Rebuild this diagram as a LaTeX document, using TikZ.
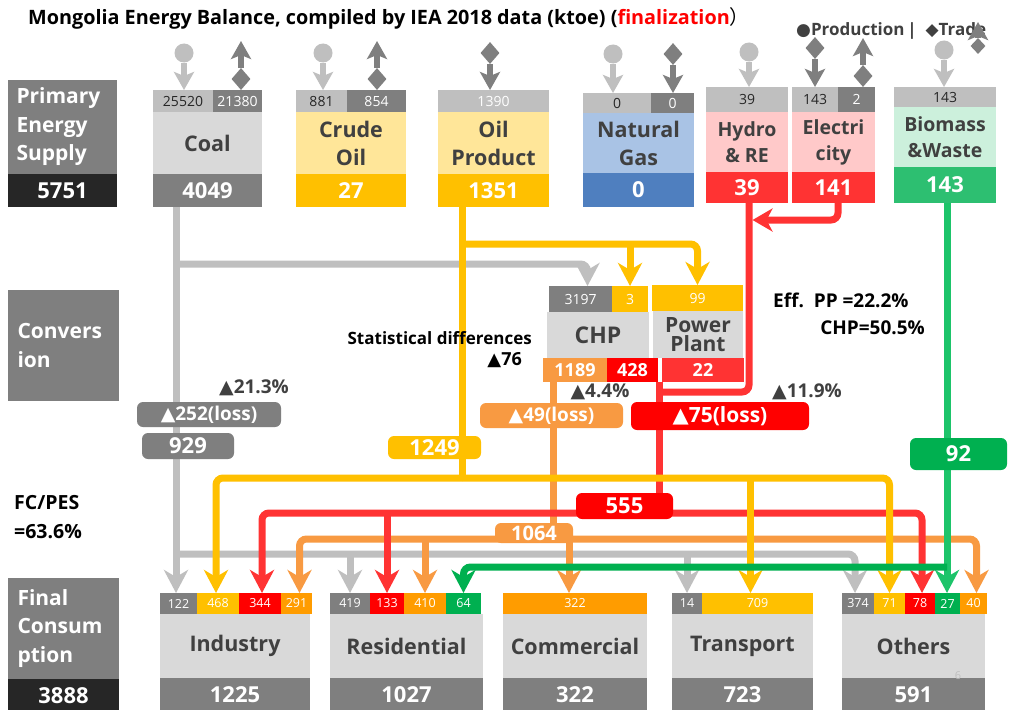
\documentclass[tikz,border=0pt]{standalone}
\usepackage{fontspec}
\setmainfont{Open Sans}
\newfontfamily\symf{DejaVu Sans}
\newfontfamily\cjkf{Noto Sans CJK SC}
\usetikzlibrary{arrows.meta,shapes.geometric,backgrounds}
\definecolor{cdg}{HTML}{7F7F7F}
\definecolor{clg}{HTML}{BFBFBF}
\definecolor{cbx}{HTML}{D9D9D9}
\definecolor{ctx}{HTML}{404040}
\definecolor{cblk}{HTML}{262626}
\definecolor{cyl}{HTML}{FFC000}
\definecolor{clyl}{HTML}{FFE699}
\definecolor{cor}{HTML}{F89A42}
\definecolor{cor2}{HTML}{FF9C00}
\definecolor{cre}{HTML}{FF0000}
\definecolor{crl}{HTML}{FF3333}
\definecolor{cpk}{HTML}{FFC9C9}
\definecolor{clbl}{HTML}{A9C3E5}
\definecolor{cbl}{HTML}{4F7FBF}
\definecolor{clgr}{HTML}{CCF0DC}
\definecolor{cgr}{HTML}{00B050}
\definecolor{cgr2}{HTML}{2DBF71}
\definecolor{cgl}{HTML}{1DC46A}
\newcommand\tri{{\symf ▲}}
\newcommand\bx[7][]{\node[bxs,minimum width={(#5-#3)*1pt},minimum height={(#6-#4)*1pt},#1] (#2) at ({(#3+#5)/2},{(#4+#6)/2}) {#7};}
\begin{document}
\begin{tikzpicture}[x=1pt,y=-1pt,
  >={Stealth[length=23pt,width=24pt,inset=7pt]},
  bxs/.style={inner sep=0pt,outer sep=0pt,align=center,draw=none},
  fnum/.style={font=\fontsize{14}{16}\selectfont},
  fsm/.style={font=\fontsize{12.5}{14}\selectfont,text=white},
  flab/.style={font=\fontsize{21.5}{28}\selectfont\bfseries,text=ctx},
  flabs/.style={font=\fontsize{19.5}{26}\selectfont\bfseries,text=ctx},
  fbig/.style={font=\fontsize{22}{26}\selectfont\bfseries,text=white},
  fside/.style={font=\fontsize{21}{28.5}\selectfont\bfseries,text=white,text width=92pt,align=left},
  fmid/.style={font=\fontsize{18}{22}\selectfont\bfseries,text=white},
  rbox/.style={rounded corners=6pt},
  ftxt/.style={font=\fontsize{18}{22}\selectfont\bfseries,text=ctx,inner sep=0pt},
  fl/.style={line width=7pt,rounded corners=7pt},
  gl/.style={fl,draw=clg},
  yl/.style={fl,draw=cyl},
  ol/.style={fl,draw=cor},
  rl/.style={fl,draw=crl},
  grl/.style={fl,draw=cgl},
  grl2/.style={fl,draw=cgr},
  pcirc/.style={circle,fill=clg,minimum size=19pt,inner sep=0pt},
  parr/.style={line width=6pt,draw=clg,-{Stealth[length=18pt,width=20pt,inset=4pt]}},
  tdia/.style={diamond,fill=cdg,minimum width=19pt,minimum height=22pt,inner sep=0pt},
  tarr/.style={line width=6pt,draw=cdg,-{Stealth[length=18pt,width=20pt,inset=4pt]}},
]
\path[use as bounding box] (0,0) rectangle (1024,709);

% title and legend
\node[anchor=west,inner sep=0pt,font=\fontsize{19.8}{24}\selectfont\bfseries] (title) at (28,18)
  {Mongolia Energy Balance, compiled by IEA 2018 data (ktoe) (\textcolor{red}{finalization}{\cjkf\mdseries ）}};
\node[anchor=west,inner sep=0pt,font=\fontsize{17}{20}\selectfont\bfseries,text=ctx] (legend) at (796,31)
  {{\symf\mdseries ●}Production\,|\ \ {\symf\mdseries ◆}Trade};

% left labels
\bx[fill=cdg,fside]{pes}{8}{80}{117}{174}{Primary\\Energy\\Supply}
\bx[fill=cblk,fbig]{pesv}{8}{174}{117}{207}{5751}
\bx[fill=cdg,fside]{conv}{8}{290}{119}{401}{Convers\\ion}
\node[anchor=west,align=left,inner sep=0pt,font=\fontsize{19.5}{29}\selectfont\bfseries] (fcpes) at (14,517) {FC/PES\\=63.6\%};
\bx[fill=cdg,fside]{fin}{8}{578}{119}{679}{Final\\Consum\\ption}
\bx[fill=cblk,fbig]{finv}{8}{679}{119}{712}{3888}

% ---------- primary row ----------
\bx[fill=clg,fnum,text=cblk]{coalP}{153}{90}{213}{112}{25520}
\bx[fill=cdg,fnum,text=white]{coalT}{213}{90}{262}{112}{21380}
\bx[fill=cbx,flab]{coal}{153}{112}{262}{174}{Coal}
\bx[fill=cdg,fbig]{coalB}{153}{174}{262}{207}{4049}

\bx[fill=clg,fnum,text=cblk]{crP}{296}{90}{347}{112}{881}
\bx[fill=cdg,fnum,text=white]{crT}{347}{90}{406}{112}{854}
\bx[fill=clyl,flab]{cr}{296}{112}{406}{174}{Crude\\Oil}
\bx[fill=cyl,fbig]{crB}{296}{174}{406}{207}{27}

\bx[fill=clg,fnum,text=white]{opP}{438}{90}{549}{112}{1390}
\bx[fill=clyl,flab]{op}{438}{112}{549}{174}{Oil\\Product}
\bx[fill=cyl,fbig]{opB}{438}{174}{549}{207}{1351}

\bx[fill=clg,fnum,text=cblk]{ngP}{583}{93}{651}{113}{0}
\bx[fill=cdg,fnum,text=white]{ngT}{651}{93}{694}{113}{0}
\bx[fill=clbl,flab]{ng}{583}{113}{694}{173}{Natural\\Gas}
\bx[fill=cbl,fbig]{ngB}{583}{173}{694}{207}{0}

\bx[fill=clg,fnum,text=cblk]{hyP}{706}{87}{788}{112}{39}
\bx[fill=cpk,flabs]{hy}{706}{112}{788}{172}{Hydro\\\& RE}
\bx[fill=crl,fbig]{hyB}{706}{172}{788}{203}{39}

\bx[fill=clg,fnum,text=cblk]{elP}{792}{87}{838}{112}{143}
\bx[fill=cdg,fnum,text=white]{elT}{838}{87}{875}{112}{2}
\bx[fill=cpk,flabs]{el}{792}{112}{875}{172}{Electri\\city}
\bx[fill=crl,fbig]{elB}{792}{172}{875}{203}{141}

\bx[fill=clg,fnum,text=cblk]{bmP}{894}{87}{996}{107}{143}
\bx[fill=clgr,flabs]{bm}{894}{107}{996}{167}{Biomass\\\&Waste}
\bx[fill=cgr2,fbig]{bmB}{894}{167}{996}{203}{143}

% production / trade icons
\node[pcirc] (pc1) at (184,53) {};
\node[pcirc] (pc2) at (323,53) {};
\node[pcirc] (pc3) at (613,54) {};
\node[pcirc] (pc4) at (749,52) {};
\node[pcirc] (pc5) at (944,50) {};
\draw[parr] (pc1) -- (coalP.north -| pc1);
\draw[parr] (pc2) -- (crP.north -| pc2);
\draw[parr] (pc3) -- (ngP.north -| pc3);
\draw[parr] (pc4) -- (hyP.north -| pc4);
\draw[parr] (pc5) -- (bmP.north -| pc5);
\node[tdia] (td1) at (241,79) {};
\coordinate (te1) at (241,41);
\draw[tarr] (td1) -- (te1);
\node[tdia] (td2) at (377,79) {};
\coordinate (te2) at (377,41);
\draw[tarr] (td2) -- (te2);
\node[tdia] (td3) at (490,53) {};
\draw[tarr] (td3) -- (opP.north -| td3);
\node[tdia] (td4) at (673,54) {};
\draw[tarr] (td4) -- (ngT.north -| td4);
\node[tdia] (td5) at (815,48) {};
\draw[tarr] (td5) -- (elP.north -| td5);
\node[tdia] (td6) at (863,76) {};
\coordinate (te6) at (863,38);
\draw[tarr] (td6) -- (te6);
\node[tdia,minimum width=15pt,minimum height=16pt] (td7) at (978,46) {};
\coordinate (te7) at (978,22);
\draw[tarr] (td7) -- (te7);

% ---------- conversion ----------
\bx[fill=cdg,fnum,text=white]{c3197}{549}{286}{612}{312}{3197}
\bx[fill=cyl,fnum,text=white]{c3}{612}{286}{648}{312}{3}
\bx[fill=cbx,flab,font=\fontsize{23}{28}\selectfont\bfseries]{chp}{547}{312}{649}{358}{CHP}
\bx[fill=cor,fmid]{c1189}{543}{358}{607}{382}{1189}
\bx[fill=cre,fmid]{c428}{607}{358}{658}{382}{428}
\bx[fill=cyl,fnum,text=white]{pp99}{652}{285}{743}{311}{99}
\bx[fill=cbx,flab,font=\fontsize{21}{19}\selectfont\bfseries]{pp}{653}{311}{743}{358}{Power\\Plant}
\bx[fill=crl,fmid]{pp22}{662}{358}{744}{382}{22}

\node[anchor=east,ftxt,text=black,font=\fontsize{17}{20}\selectfont\bfseries] (sd1) at (532,338) {Statistical differences};
\node[anchor=east,ftxt,text=black] (sd2) at (522,360) {\tri76};
\node[anchor=west,ftxt,text=black,font=\fontsize{19}{22}\selectfont\bfseries] (eff1) at (773,300) {Eff.\ \ PP =22.2\%};
\node[anchor=east,ftxt,text=black,font=\fontsize{19}{22}\selectfont\bfseries] (eff2) at (925,328) {CHP=50.5\%};
\node[ftxt,font=\fontsize{19}{22}\selectfont\bfseries] (p213) at (254,388) {\tri21.3\%};
\node[ftxt,font=\fontsize{19}{22}\selectfont\bfseries] (p44) at (600,392) {\tri4.4\%};
\node[ftxt,font=\fontsize{19}{22}\selectfont\bfseries] (p119) at (807,392) {\tri11.9\%};

\bx[fill=cdg,rbox,fmid,font=\fontsize{19}{22}\selectfont\bfseries]{loss252}{137}{402}{281}{427}{\tri252(loss)}
\bx[fill=cdg,rbox,fbig]{v929}{142}{433}{234}{459}{929}
\bx[fill=cyl,rbox,fbig]{v1249}{388}{436}{481}{459}{1249}
\bx[fill=cor,rbox,fmid,font=\fontsize{19}{22}\selectfont\bfseries]{loss49}{480}{403}{623}{428}{\tri49(loss)}
\bx[fill=cre,rbox,fmid,font=\fontsize{21}{24}\selectfont\bfseries]{loss75}{631}{402}{809}{430}{\tri75(loss)}
\bx[fill=cgr,rbox,fbig]{v92}{910}{438}{1007}{470}{92}
\bx[fill=cre,rbox,fbig]{v555}{576}{493}{673}{519}{555}
\bx[fill=cor,rbox,fmid,font=\fontsize{20}{22}\selectfont\bfseries]{v1064}{495}{523}{573}{543}{1064}

% ---------- final consumption ----------
\bx[fill=cdg,fsm]{i122}{160}{593}{197}{614}{122}
\bx[fill=cyl,fsm]{i468}{197}{593}{239}{614}{468}
\bx[fill=cre,fsm]{i344}{239}{593}{281}{614}{344}
\bx[fill=cor2,fsm]{i291}{281}{593}{312}{614}{291}
\bx[fill=cbx,flab]{ind}{160}{614}{310}{678}{Industry}
\bx[fill=cdg,fbig]{indB}{160}{678}{310}{712}{1225}

\bx[fill=cdg,fsm]{r419}{330}{593}{370}{614}{419}
\bx[fill=cre,fsm]{r133}{370}{593}{404}{614}{133}
\bx[fill=cor2,fsm]{r410}{404}{593}{446}{614}{410}
\bx[fill=cgr,fsm]{r64}{446}{593}{481}{614}{64}
\bx[fill=cbx,flab]{res}{330}{614}{483}{678}{Residential}
\bx[fill=cdg,fbig]{resB}{330}{678}{483}{712}{1027}

\bx[fill=cor2,fsm]{com322}{503}{593}{647}{614}{322}
\bx[fill=cbx,flab]{com}{503}{614}{647}{678}{Commercial}
\bx[fill=cdg,fbig]{comB}{503}{678}{647}{712}{322}

\bx[fill=cdg,fsm]{t14}{672}{593}{702}{614}{14}
\bx[fill=cyl,fsm]{t709}{702}{593}{813}{614}{709}
\bx[fill=cbx,flab]{tra}{672}{614}{813}{678}{Transport}
\bx[fill=cdg,fbig]{traB}{672}{678}{813}{712}{723}

\bx[fill=cdg,fsm]{o374}{842}{593}{874}{614}{374}
\bx[fill=cyl,fsm]{o71}{874}{593}{905}{614}{71}
\bx[fill=cre,fsm]{o78}{905}{593}{935}{614}{78}
\bx[fill=cgr,fsm]{o27}{935}{593}{960}{614}{27}
\bx[fill=cor2,fsm]{o40}{960}{593}{987}{614}{40}
\bx[fill=cbx,flab]{oth}{842}{614}{985}{678}{Others}
\bx[fill=cdg,fbig]{othB}{842}{678}{985}{712}{591}
\node[text=clg,inner sep=0pt,font=\fontsize{11}{12}\selectfont] (pg) at (958,676) {6};

% ---------- flows (behind the boxes) ----------
\begin{pgfonlayer}{background}
\fill[white] (0,0) rectangle (1024,709);
% gray (coal)
\coordinate (gx) at (176,0);
\coordinate (g1) at (176,264);
\coordinate (g2) at (176,554);
\draw[gl,->] (coalB.south -| gx) -- (i122.north -| gx);
\draw[gl,->] (g1) -| ([xshift=7pt]c3197.north);
\draw[gl,->] (g2) -| ([xshift=-3pt]o374.north);
\draw[gl,->] (g2 -| r419.north) -- (r419.north);
\draw[gl,->] (g2 -| t14.north) -- (t14.north);
% orange (CHP heat)
\coordinate (ox) at (553,0);
\coordinate (o1) at (553,539);
\coordinate (ocx) at (569,0);
\draw[ol] (c1189.south -| ox) -- (v1064.north -| ox);
\draw[ol,->] (o1) -| ([xshift=3pt]i291.north);
\draw[ol,->] (o1) -| ([xshift=3pt]o40.north);
\draw[ol,->] (o1 -| r410.north) -- (r410.north);
\draw[ol,->] (o1 -| ocx) -- (com322.north -| ocx);
% red (electricity)
\coordinate (ex) at (838,0);
\coordinate (hx) at (749,0);
\coordinate (rx) at (659,0);
\coordinate (r0) at (752.5,220);
\coordinate (r1) at (659,392);
\coordinate (r2) at (624,513);
\draw[rl,-{Stealth[length=20pt,width=23pt,inset=6pt]}] (elB.south -| ex) |- (r0);
\draw[rl] (hyB.south -| hx) |- (r1);
\draw[rl] (c428.south -| rx) -- (v555.north -| rx);
\draw[rl,->] (r2) -| ([xshift=2pt]i344.north);
\draw[rl,->] (r2) -| ([xshift=2pt]o78.north);
\draw[rl,->] (r2 -| r133.north) -- (r133.north);
% yellow (oil)
\coordinate (yx) at (462,0);
\coordinate (y1) at (462,244);
\coordinate (y2) at (462,478);
\coordinate (tyx) at ([xshift=-7pt]t709.north);
\draw[yl] (opB.south -| yx) -- (y2);
\draw[yl,->] (y1) -| (pp99.north);
\draw[yl,->] (y1 -| c3.north) -- (c3.north);
\draw[yl,->] (y2) -| ([xshift=-2pt]i468.north);
\draw[yl,->] (y2) -| (o71.north);
\draw[yl,->] (y2 -| tyx) -- (tyx);
% green (biomass)
\coordinate (bx) at (947,0);
\coordinate (gn1) at (947,567);
\draw[grl,->] (bmB.south -| bx) -- (o27.north -| bx);
\draw[grl2,->] (gn1) -| (r64.north);
\end{pgfonlayer}
\end{tikzpicture}
\end{document}
